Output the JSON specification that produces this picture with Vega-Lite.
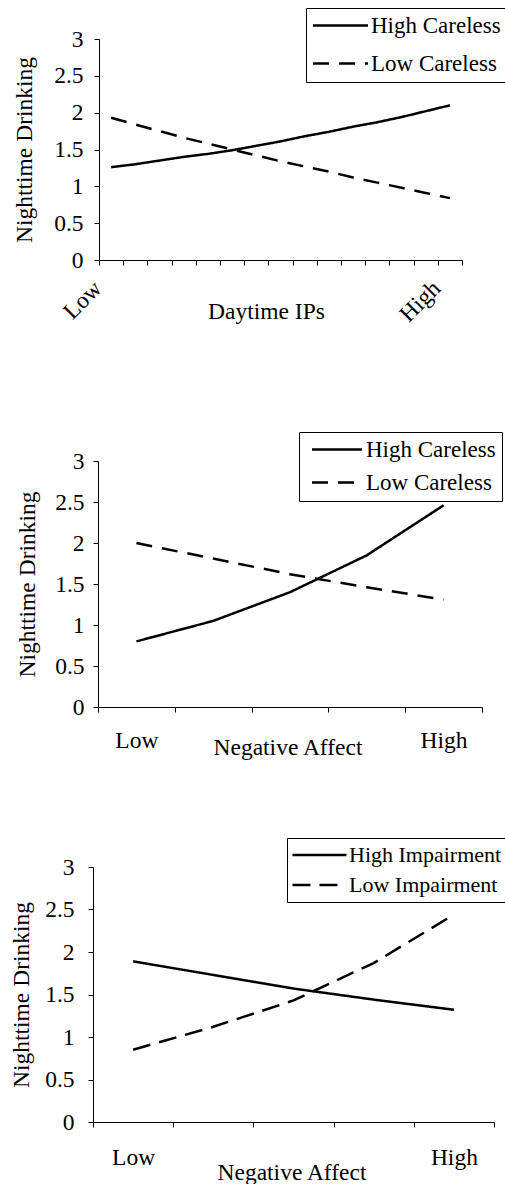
{
  "$schema": "https://vega.github.io/schema/vega-lite/v6.json",
  "background": "white",
  "padding": {"left": 9, "top": 7, "right": 0, "bottom": 0},
  "config": {
    "view": {"stroke": null},
    "axis": {
      "labelFont": "Liberation Serif", "titleFont": "Liberation Serif",
      "labelFontSize": 23.5, "titleFontSize": 23.5,
      "labelColor": "black", "titleColor": "black",
      "titleFontWeight": "normal",
      "domainColor": "black", "tickColor": "black",
      "domainWidth": 1, "tickWidth": 1, "tickSize": 5, "grid": false
    },
    "legend": {
      "labelFont": "Liberation Serif", "labelFontSize": 23, "labelColor": "black",
      "strokeColor": "black", "fillColor": "white",
      "symbolType": "M-5,0H5", "symbolStrokeColor": "black", "symbolStrokeWidth": 2.5,
      "symbolFillColor": "transparent",
      "padding": 6, "orient": "none"
    }
  },
  "concat": [
    {
      "width": 363, "height": 221,
      "data": {"values": [
        {"x": 1, "g": "High Careless", "y": 1.26},
        {"x": 2, "g": "High Careless", "y": 1.30},
        {"x": 3, "g": "High Careless", "y": 1.35},
        {"x": 4, "g": "High Careless", "y": 1.40},
        {"x": 5, "g": "High Careless", "y": 1.44},
        {"x": 6, "g": "High Careless", "y": 1.49},
        {"x": 7, "g": "High Careless", "y": 1.55},
        {"x": 8, "g": "High Careless", "y": 1.61},
        {"x": 9, "g": "High Careless", "y": 1.68},
        {"x": 10, "g": "High Careless", "y": 1.74},
        {"x": 11, "g": "High Careless", "y": 1.81},
        {"x": 12, "g": "High Careless", "y": 1.87},
        {"x": 13, "g": "High Careless", "y": 1.94},
        {"x": 14, "g": "High Careless", "y": 2.02},
        {"x": 15, "g": "High Careless", "y": 2.10},
        {"x": 1, "g": "Low Careless", "y": 1.93},
        {"x": 2, "g": "Low Careless", "y": 1.84},
        {"x": 3, "g": "Low Careless", "y": 1.75},
        {"x": 4, "g": "Low Careless", "y": 1.66},
        {"x": 5, "g": "Low Careless", "y": 1.58},
        {"x": 6, "g": "Low Careless", "y": 1.50},
        {"x": 7, "g": "Low Careless", "y": 1.42},
        {"x": 8, "g": "Low Careless", "y": 1.34},
        {"x": 9, "g": "Low Careless", "y": 1.27},
        {"x": 10, "g": "Low Careless", "y": 1.20},
        {"x": 11, "g": "Low Careless", "y": 1.12},
        {"x": 12, "g": "Low Careless", "y": 1.05},
        {"x": 13, "g": "Low Careless", "y": 0.98},
        {"x": 14, "g": "Low Careless", "y": 0.91},
        {"x": 15, "g": "Low Careless", "y": 0.84}
      ]},
      "mark": {"type": "line", "color": "black", "strokeWidth": 2.5},
      "encoding": {
        "x": {"field": "x", "type": "ordinal", "bandPosition": 0.5,
          "scale": {"type": "band", "paddingInner": 0, "paddingOuter": 0},
          "axis": {"title": "Daytime IPs", "labelAngle": -45, "labelAlign": "right", "labelBaseline": "bottom",
            "labelPadding": 28, "labelOffset": -5, "tickBand": "extent",
            "labelOverlap": false,
            "labelExpr": "datum.value == 1 ? 'Low' : datum.value == 15 ? 'High' : ''",
            "titleX": 167, "titleY": 58, "titleBaseline": "alphabetic"}},
        "y": {"field": "y", "type": "quantitative",
          "scale": {"domain": [0, 3]},
          "axis": {"title": "Nighttime Drinking", "values": [0, 0.5, 1, 1.5, 2, 2.5, 3], "format": "~g",
            "labelPadding": 11, "titlePadding": 17}},
        "strokeDash": {"field": "g", "type": "nominal",
          "scale": {"domain": ["High Careless", "Low Careless"], "range": [[1, 0], [16, 10]]},
          "legend": {"title": null, "legendX": 207, "legendY": -31, "symbolSize": 121,
            "symbolOffset": 17, "labelOffset": 19, "rowPadding": 14}}
      }
    },
    {
      "spacing": 78,
      "columns": 1,
      "resolve": {"scale": {"strokeDash": "independent"}, "legend": {"strokeDash": "independent"}},
      "concat": [
        {
          "width": 384, "height": 246,
          "data": {"values": [
            {"x": 1, "g": "High Careless", "y": 0.80},
            {"x": 2, "g": "High Careless", "y": 1.05},
            {"x": 3, "g": "High Careless", "y": 1.40},
            {"x": 4, "g": "High Careless", "y": 1.85},
            {"x": 5, "g": "High Careless", "y": 2.46},
            {"x": 1, "g": "Low Careless", "y": 2.00},
            {"x": 2, "g": "Low Careless", "y": 1.81},
            {"x": 3, "g": "Low Careless", "y": 1.62},
            {"x": 4, "g": "Low Careless", "y": 1.46},
            {"x": 5, "g": "Low Careless", "y": 1.31}
          ]},
          "mark": {"type": "line", "color": "black", "strokeWidth": 2.5},
          "encoding": {
            "x": {"field": "x", "type": "ordinal", "bandPosition": 0.5,
              "scale": {"type": "band", "paddingInner": 0, "paddingOuter": 0, "range": [-1, 383]},
              "axis": {"title": "Negative Affect", "labelAngle": 0, "tickBand": "extent",
                "labelOverlap": false, "labelBaseline": "alphabetic", "labelPadding": 35,
                "labelExpr": "datum.value == 1 ? 'Low' : datum.value == 5 ? 'High' : ''",
                "titleX": 188.5, "titleY": 47, "titleBaseline": "alphabetic"}},
            "y": {"field": "y", "type": "quantitative",
              "scale": {"domain": [0, 3]},
              "axis": {"title": "Nighttime Drinking", "values": [0, 0.5, 1, 1.5, 2, 2.5, 3], "format": "~g",
                "labelPadding": 9, "titlePadding": 15, "offset": 1}},
            "strokeDash": {"field": "g", "type": "nominal",
              "scale": {"domain": ["High Careless", "Low Careless"], "range": [[1, 0], [16, 10]]},
              "legend": {"title": null, "legendX": 200, "legendY": -29, "symbolSize": 100,
                "symbolOffset": 20.5, "labelOffset": 17.5, "rowPadding": 9}}
          }
        },
        {
          "width": 401, "height": 255,
          "data": {"values": [
            {"x": 1, "g": "High Impairment", "y": 1.89},
            {"x": 2, "g": "High Impairment", "y": 1.73},
            {"x": 3, "g": "High Impairment", "y": 1.57},
            {"x": 4, "g": "High Impairment", "y": 1.44},
            {"x": 5, "g": "High Impairment", "y": 1.32},
            {"x": 1, "g": "Low Impairment", "y": 0.85},
            {"x": 2, "g": "Low Impairment", "y": 1.12},
            {"x": 3, "g": "Low Impairment", "y": 1.43},
            {"x": 4, "g": "Low Impairment", "y": 1.87},
            {"x": 5, "g": "Low Impairment", "y": 2.44}
          ]},
          "mark": {"type": "line", "color": "black", "strokeWidth": 2.5},
          "encoding": {
            "x": {"field": "x", "type": "ordinal", "bandPosition": 0.5,
              "scale": {"type": "band", "paddingInner": 0, "paddingOuter": 0, "range": [-6, 395]},
              "axis": {"title": "Negative Affect", "labelAngle": 0, "tickBand": "extent",
                "labelOverlap": false, "labelBaseline": "alphabetic", "labelPadding": 37,
                "labelExpr": "datum.value == 1 ? 'Low' : datum.value == 5 ? 'High' : ''",
                "titleX": 192.5, "titleY": 57, "titleBaseline": "alphabetic"}},
            "y": {"field": "y", "type": "quantitative",
              "scale": {"domain": [0, 3]},
              "axis": {"title": "Nighttime Drinking", "values": [0, 0.5, 1, 1.5, 2, 2.5, 3], "format": "~g",
                "labelPadding": 14, "titlePadding": 11, "offset": 6}},
            "strokeDash": {"field": "g", "type": "nominal",
              "scale": {"domain": ["High Impairment", "Low Impairment"], "range": [[1, 0], [18, 9]]},
              "legend": {"title": null, "legendX": 188, "legendY": -29, "symbolSize": 117,
                "symbolOffset": 15.5, "labelOffset": 18.5, "rowPadding": 8, "labelFontSize": 22}}
          }
        }
      ]
    }
  ],
  "columns": 1,
  "spacing": 105,
  "resolve": {"scale": {"strokeDash": "independent"}, "legend": {"strokeDash": "independent"}}
}
